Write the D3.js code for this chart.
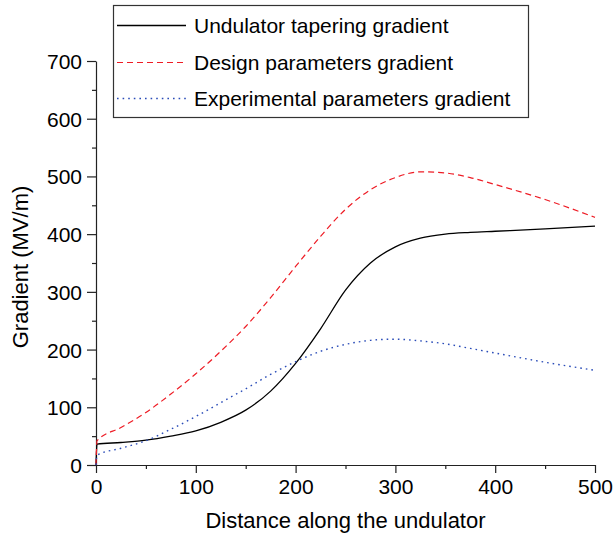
<!DOCTYPE html>
<html>
<head>
<meta charset="utf-8">
<script src="https://cdn.jsdelivr.net/npm/d3@7"></script>
<style>
body { margin: 0; background: #fff; }
text { font-family: 'Liberation Sans', Arial, Helvetica, sans-serif; fill: #000; }
</style>
</head>
<body>
<div class="chart"></div>
<script>
//Data
const distance = [0, 1, 25, 50, 75, 100, 125, 150, 175, 200, 225, 250, 275, 300, 325, 350, 375, 400, 450, 500];
const taperingGradient = [0, 36, 39, 43, 50, 59, 74, 95, 128, 176, 236, 303, 350, 378, 393, 400, 403, 405, 409, 414];
const designGradient = [0, 42, 65, 91, 123, 158, 197, 240, 290, 344, 396, 443, 477, 498, 508, 506, 498, 486, 460, 429];
const experimentalGradient = [0, 17, 29, 42, 62, 84, 108, 132, 157, 179, 197, 209, 216, 218, 215, 210, 202, 194, 178, 164];

const seriesNames = ['Undulator tapering gradient', 'Design parameters gradient', 'Experimental parameters gradient'];
const xTicks = [0, 100, 200, 300, 400, 500];
const yTicks = [0, 100, 200, 300, 400, 500, 600, 700];

//Sizes
const WIDTH = 613;
const HEIGHT = 536;
const LEFT = 96, RIGHT = 595, TOP = 61, BOTTOM = 465;

let svg = d3.select('.chart')
.append('svg')
.attr('width', WIDTH)
.attr('height', HEIGHT);

//Scales
const xScale = d3.scaleLinear().domain([0, 500]).range([LEFT, RIGHT]);
const yScale = d3.scaleLinear().domain([0, 700]).range([BOTTOM, TOP]);

//Line styles for each series
const styles = [
    { color: '#000000', dash: null, width: 1.3 },
    { color: '#ee1c25', dash: '6,4', width: 1.2 },
    { color: '#2a4cb8', dash: '1.6,4', width: 1.4 }
];

const allSeries = [taperingGradient, designGradient, experimentalGradient].map((vals, i) => ({
    name: seriesNames[i],
    points: distance.map((d, j) => ({ x: d, y: vals[j] }))
}));

//Axes (minor ticks every 50)
svg.append('g')
.attr('transform', `translate(0,${BOTTOM})`)
.call(d3.axisBottom(xScale).tickValues(d3.range(50, 500, 100)).tickSize(4).tickFormat(''))
.call(g => g.select('.domain').remove());

svg.append('g')
.attr('transform', `translate(0,${BOTTOM})`)
.call(d3.axisBottom(xScale).tickValues(xTicks).tickSize(8).tickSizeOuter(0).tickPadding(5))
.call(g => g.selectAll('text').style('font-size', '21px').attr('dy', '0.78em'));

svg.append('g')
.attr('transform', `translate(${LEFT},0)`)
.call(d3.axisLeft(yScale).tickValues(d3.range(50, 700, 100)).tickSize(4).tickFormat(''))
.call(g => g.select('.domain').remove());

svg.append('g')
.attr('transform', `translate(${LEFT},0)`)
.call(d3.axisLeft(yScale).tickValues(yTicks).tickSize(9).tickSizeOuter(0).tickPadding(5))
.call(g => g.selectAll('text').style('font-size', '21px').attr('dy', '0.36em'));

svg.selectAll('.domain, .tick line').attr('stroke', '#222').attr('stroke-width', 1.2);

//Lines
const line = d3.line()
.x(d => xScale(d.x))
.y(d => yScale(d.y))
.curve(d3.curveMonotoneX);

svg.append('g')
.selectAll()
.data(allSeries)
.enter()
.append('path')
.attr('d', d => line(d.points))
.attr('fill', 'none')
.attr('stroke', (d, i) => styles[i].color)
.attr('stroke-width', (d, i) => styles[i].width)
.attr('stroke-dasharray', (d, i) => styles[i].dash);

//Axis titles
svg.append('text')
.attr('x', (LEFT + RIGHT) / 2)
.attr('y', 528)
.attr('text-anchor', 'middle')
.style('font-size', '22px')
.text('Distance along the undulator');

svg.append('text')
.attr('transform', `translate(28,267) rotate(-90)`)
.attr('text-anchor', 'middle')
.style('font-size', '22px')
.text('Gradient (MV/m)');

//Legend
let legend = svg.append('g');

legend.append('rect')
.attr('x', 113.5)
.attr('y', 5.5)
.attr('width', 415)
.attr('height', 112)
.attr('fill', '#fff')
.attr('stroke', '#333')
.attr('stroke-width', 1.2);

legend.selectAll()
.data(allSeries)
.enter()
.append('line')
.attr('x1', 117)
.attr('x2', 186)
.attr('y1', (d, i) => Math.round(25 + i * 36.5) + 0.5)
.attr('y2', (d, i) => Math.round(25 + i * 36.5) + 0.5)
.attr('stroke', (d, i) => styles[i].color)
.attr('stroke-width', (d, i) => styles[i].width)
.attr('stroke-dasharray', (d, i) => styles[i].dash);

legend.selectAll()
.data(allSeries)
.enter()
.append('text')
.attr('x', 194)
.attr('y', (d, i) => 33 + i * 36.5)
.style('font-size', '21px')
.text(d => d.name);
</script>
</body>
</html>
